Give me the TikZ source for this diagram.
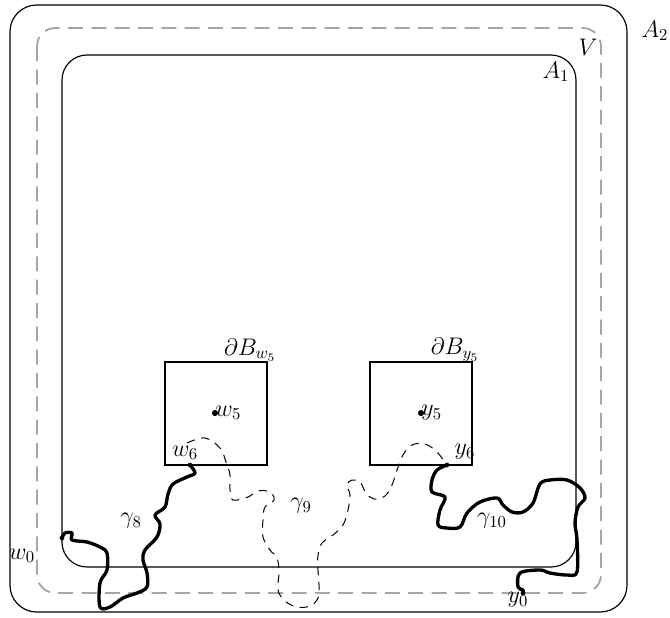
\documentclass[tikz,border=0pt]{standalone}
\usepackage{amsmath,amssymb}
\usepackage{tikz}
\usetikzlibrary{positioning}

\begin{document}
\begin{tikzpicture}[
  x=0.6pt, y=-0.6pt,
  region/.style={draw, line width=0.7pt},
  vset/.style={draw=black!35, line width=1.1pt, dash pattern=on 9pt off 5pt},
  cell/.style={draw, line width=1pt},
  walk/.style={line width=2pt, line join=round, line cap=round},
  hidden/.style={line width=0.6pt, dash pattern=on 5pt off 4pt},
  pt/.style={circle, fill, inner sep=1.3pt},
  lbl/.style={inner sep=1pt, font=\Large}
]
\useasboundingbox (0,0) rectangle (670,617);

% Nested regions A_2, V, A_1
\draw[region, rounded corners=16pt] (10,5) rectangle (627,612);
\draw[vset, rounded corners=11pt] (37,28) rectangle (601,593);
\draw[region, rounded corners=15pt] (62,55) rectangle (576,567);

\node[lbl] (lA2) at (655,31) {$A_2$};
\node[lbl] (lV)  at (588,47) {$V$};
\node[lbl] (lA1) at (556,72) {$A_1$};

% Boxes around w_5 and y_5
\draw[cell] (165,362) rectangle (267,465);
\draw[cell] (370,362) rectangle (472,465);
\node[lbl] (lBw) at (250,350) {$\partial B_{w_5}$};
\node[lbl] (lBy) at (455,350) {$\partial B_{y_5}$};

% Points
\node[pt] (w5) at (215,413) {};
\node[pt] (y5) at (421,413) {};
\node[pt, inner sep=1pt] (w6) at (190,465) {};
\node[pt, inner sep=1pt] (y6) at (447,465) {};
\node[pt, inner sep=1pt] (w0) at (62,538) {};
\node[pt, inner sep=1pt] (y0) at (523,593) {};
\coordinate (g9s) at (187,443);

\node[lbl, right=0pt of w5, xshift=-3pt] (lw5) {$w_5$};
\node[lbl, right=0pt of y5, xshift=-3pt] (ly5) {$y_5$};
\node[lbl] (lw6) at (185,453) {$w_6$};
\node[lbl] (ly6) at (465,452) {$y_6$};
\node[lbl] (lw0) at (22,556) {$w_0$};
\node[lbl] (ly0) at (518,600) {$y_0$};

% Walks
\draw[walk] (w6.center) plot[smooth, tension=0.55] coordinates {
  (190,465) (195,473) (187,477) (173,484) (168,494) (165,507) (155,515)
  (160,524) (157,537) (145,550) (143,560) (147,573) (147,587) (137,593)
  (123,598) (110,607) (100,607) (100,583) (107,570) (107,553) (100,547)
  (87,542) (72,540) (72,533) (65,533) (62,538)} -- (w0.center);
\draw[walk] (y6.center) plot[smooth, tension=0.55] coordinates {
  (447,465) (437,470) (432,480) (432,492) (445,497) (440,510) (438,525)
  (447,528) (460,527) (467,513) (480,502) (497,498) (503,505) (512,512)
  (523,512) (533,503) (540,484) (550,480) (567,480) (580,488) (585,498)
  (578,507) (575,523) (577,540) (577,572) (567,575) (550,573) (540,570)
  (520,573) (518,587) (523,590) (523,593)} -- (y0.center);
\draw[hidden] (g9s) plot[smooth, tension=0.6] coordinates {
  (187,443) (205,438) (220,448) (226,462) (230,475) (230,490) (233,500)
  (248,497) (258,491) (270,492) (274,500) (265,507) (263,520) (263,537)
  (270,550) (277,558) (279,572) (278,590) (285,601) (297,607) (310,606)
  (318,598) (319,585) (318,570) (318,555) (322,543) (333,535) (343,525)
  (348,510) (350,495) (347,485) (352,480) (360,482) (366,493) (374,499)
  (385,496) (392,485) (397,470) (403,455) (412,445) (425,444) (437,452)
  (446,464)} -- (y6.center);

\node[lbl] (lg8)  at (131,521) {$\gamma_8$};
\node[lbl] (lg9)  at (301,506) {$\gamma_9$};
\node[lbl] (lg10) at (492,521) {$\gamma_{10}$};

\end{tikzpicture}
\end{document}
